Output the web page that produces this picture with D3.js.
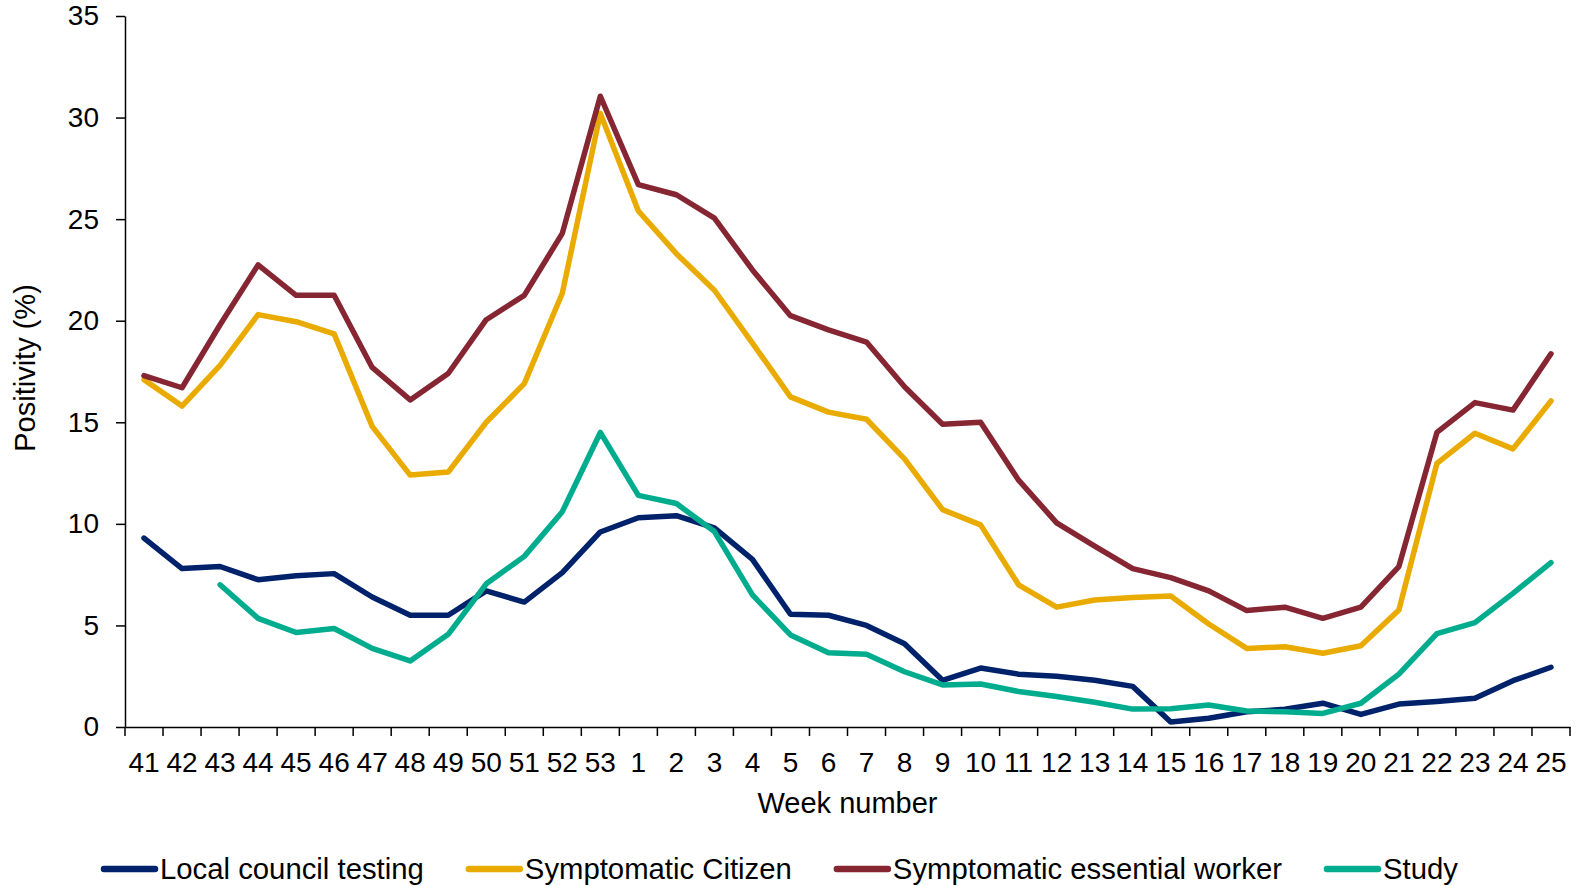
<!DOCTYPE html>
<html>
<head>
<meta charset="utf-8">
<script src="https://cdn.jsdelivr.net/npm/d3@7"></script>
<style>
  html, body { margin: 0; padding: 0; background: #fff; }
  svg { display: block; font-family: "Liberation Sans", Arial, sans-serif; }
</style>
</head>
<body>
<div id="viz"></div>
<script>
// week labels (41..53 of one year, then 1..25)
const weeks = ['41','42','43','44','45','46','47','48','49','50','51','52','53',
  '1','2','3','4','5','6','7','8','9','10','11','12','13','14','15','16','17','18','19','20','21','22','23','24','25'];

const localCouncil = [9.3,7.8,7.9,7.25,7.45,7.55,6.4,5.5,5.5,6.7,6.15,7.6,9.6,
  10.3,10.4,9.8,8.25,5.55,5.5,5.0,4.1,2.3,2.9,2.6,2.5,2.3,2.0,0.25,0.43,0.75,0.87,1.17,0.62,1.13,1.25,1.41,2.28,2.94];

const sympCitizen = [17.1,15.8,17.8,20.3,19.95,19.35,14.8,12.4,12.55,15.0,16.9,21.35,30.2,
  25.4,23.3,21.5,18.9,16.25,15.5,15.15,13.2,10.7,9.95,7.0,5.9,6.25,6.37,6.45,5.07,3.87,3.95,3.63,4.0,5.76,12.98,14.46,13.69,16.05];

const sympWorker = [17.3,16.7,19.8,22.75,21.25,21.25,17.7,16.1,17.4,20.05,21.25,24.3,31.05,
  26.7,26.2,25.05,22.5,20.25,19.55,18.95,16.75,14.9,15.0,12.15,10.05,8.9,7.8,7.35,6.7,5.73,5.9,5.35,5.9,7.9,14.5,15.97,15.6,18.37];

const study = [null,null,7.0,5.35,4.65,4.85,3.87,3.25,4.56,7.05,8.4,10.6,14.5,
  11.4,11.0,9.62,6.5,4.53,3.66,3.58,2.72,2.07,2.12,1.75,1.5,1.22,0.88,0.9,1.08,0.79,0.75,0.67,1.17,2.6,4.6,5.14,6.58,8.09];

const yTicks = [0, 5, 10, 15, 20, 25, 30, 35];

const seriesNames = ['Local council testing', 'Symptomatic Citizen', 'Symptomatic essential worker', 'Study'];
const seriesColors = ['#00226B', '#EAAB00', '#862633', '#00AC8E'];
const seriesValues = [localCouncil, sympCitizen, sympWorker, study];

const width = 1577;
const height = 886;
const margin = { top: 16, right: 7, bottom: 159, left: 125 };

const svg = d3.select('#viz')
  .append('svg')
  .attr('width', width)
  .attr('height', height);

const x = d3.scaleBand()
  .domain(weeks)
  .range([margin.left, width - margin.right]);

const y = d3.scaleLinear()
  .domain([0, 35])
  .range([height - margin.bottom, margin.top]);

// y axis
const yAxis = svg.append('g')
  .attr('transform', `translate(${margin.left},0)`)
  .call(d3.axisLeft(y).tickValues(yTicks).tickSize(9).tickSizeOuter(0).tickPadding(17));
yAxis.selectAll('text').attr('font-size', 28).attr('fill', '#000')
  .style('font-family', '"Liberation Sans", Arial, sans-serif');
yAxis.selectAll('line, path').attr('stroke', '#000').attr('stroke-width', 1.5);

// x axis: labels in band centres, ticks between categories
const xAxis = svg.append('g')
  .attr('transform', `translate(0,${y(0)})`)
  .call(d3.axisBottom(x).tickSize(0).tickSizeOuter(0).tickPadding(25));
xAxis.selectAll('text').attr('font-size', 28).attr('fill', '#000')
  .style('font-family', '"Liberation Sans", Arial, sans-serif');
xAxis.select('.domain').attr('stroke', '#000').attr('stroke-width', 1.5);

const edges = weeks.map(w => x(w)).concat([x.range()[1]]);
xAxis.selectAll('line.edge')
  .data(edges)
  .enter()
  .append('line')
  .attr('class', 'edge')
  .attr('x1', d => d)
  .attr('x2', d => d)
  .attr('y1', 0)
  .attr('y2', 9)
  .attr('stroke', '#000')
  .attr('stroke-width', 1.5);

// axis titles
svg.append('text')
  .attr('x', (margin.left + width - margin.right) / 2)
  .attr('y', 813)
  .attr('text-anchor', 'middle')
  .attr('font-size', 29)
  .text('Week number');

svg.append('text')
  .attr('transform', 'translate(35,368) rotate(-90)')
  .attr('text-anchor', 'middle')
  .attr('font-size', 29)
  .text('Positivity (%)');

// lines
const line = d3.line()
  .defined(d => d !== null)
  .x((d, i) => x(weeks[i]) + x.bandwidth() / 2)
  .y(d => y(d));

svg.append('g')
  .selectAll('path')
  .data(seriesValues)
  .enter()
  .append('path')
  .attr('d', d => line(d))
  .attr('fill', 'none')
  .attr('stroke', (d, i) => seriesColors[i])
  .attr('stroke-width', 5.5)
  .attr('stroke-linejoin', 'round')
  .attr('stroke-linecap', 'round');

// legend
const legend = svg.append('g').attr('transform', 'translate(0,869)');
let lx = 102;
seriesNames.forEach((name, i) => {
  legend.append('line')
    .attr('x1', lx + 2)
    .attr('x2', lx + 53)
    .attr('y1', 0)
    .attr('y2', 0)
    .attr('stroke', seriesColors[i])
    .attr('stroke-width', 6.5)
    .attr('stroke-linecap', 'round');
  const t = legend.append('text')
    .attr('x', lx + 58)
    .attr('y', 10)
    .attr('font-size', 29.3)
    .text(name);
  lx += 58 + t.node().getComputedTextLength() + 43;
});
</script>
</body>
</html>
